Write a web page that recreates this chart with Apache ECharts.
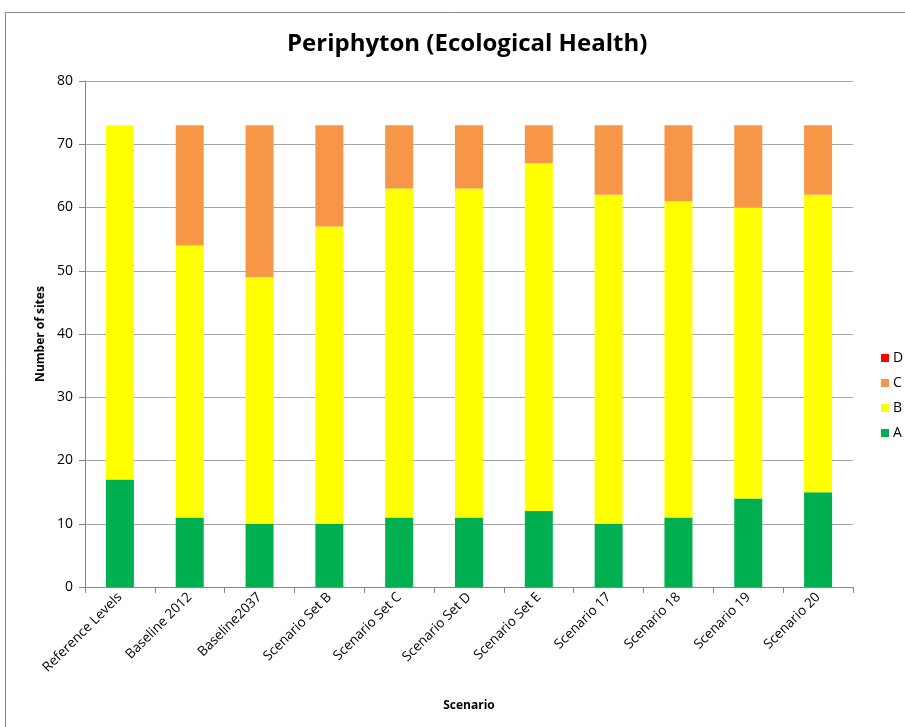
<!DOCTYPE html>
<html>
<head>
<meta charset="utf-8">
<script src="https://cdn.jsdelivr.net/npm/echarts@6/dist/echarts.min.js"></script>
<style>
html,body{margin:0;padding:0;background:#fff;}
#main{width:905px;height:727px;}
</style>
</head>
<body>
<div id="main"></div>
<script>
var categories = ['Reference Levels','Baseline 2012','Baseline2037','Scenario Set B','Scenario Set C','Scenario Set D','Scenario Set E','Scenario 17','Scenario 18','Scenario 19','Scenario 20'];
var valuesA = [17, 11, 10, 10, 11, 11, 12, 10, 11, 14, 15];
var valuesB = [56, 43, 39, 47, 52, 52, 55, 52, 50, 46, 47];
var valuesC = [0, 19, 24, 16, 10, 10, 6, 11, 12, 13, 11];
var valuesD = [0, 0, 0, 0, 0, 0, 0, 0, 0, 0, 0];
var yTicks = [0, 10, 20, 30, 40, 50, 60, 70, 80];

var font = '"Open Sans", "Liberation Sans", sans-serif';
var chart = echarts.init(document.getElementById('main'));

function bar(name, data, color){
    return {
        name: name,
        type: 'bar',
        stack: 'total',
        barWidth: 28,
        data: data,
        itemStyle: {color: color},
        emphasis: {disabled: true}
    };
}

var option = {
    animation: false,
    backgroundColor: '#fff',
    graphic: [{
        type: 'rect',
        shape: {x: 5.5, y: 12.5, width: 905, height: 730},
        style: {fill: 'none', stroke: '#868686', lineWidth: 1},
        silent: true
    }],
    title: {
        text: 'Periphyton (Ecological Health)',
        left: 282,
        top: 27,
        textStyle: {fontFamily: font, fontSize: 24, fontWeight: 'bold', color: '#000'}
    },
    legend: {
        orient: 'vertical',
        left: 876,
        top: 346,
        itemWidth: 8,
        itemHeight: 8,
        itemGap: 11,
        icon: 'rect',
        data: ['D', 'C', 'B', 'A'],
        textStyle: {fontFamily: font, fontSize: 14, color: '#000', padding: [0, 0, 0, -1]}
    },
    grid: {left: 85, right: 52, top: 81, bottom: 140},
    xAxis: {
        type: 'category',
        data: categories,
        name: 'Scenario',
        nameLocation: 'middle',
        nameGap: 113,
        nameTextStyle: {fontFamily: font, fontSize: 12, fontWeight: 'bold', color: '#000'},
        axisLine: {lineStyle: {color: '#868686'}},
        axisTick: {show: true, alignWithLabel: false, length: 6, lineStyle: {color: '#868686'}},
        axisLabel: {rotate: 45, interval: 0, fontFamily: font, fontSize: 13.5, color: '#000', margin: 8}
    },
    yAxis: {
        type: 'value',
        min: yTicks[0],
        max: yTicks[yTicks.length - 1],
        interval: 10,
        name: 'Number of sites',
        nameLocation: 'middle',
        nameGap: 38,
        nameTextStyle: {fontFamily: font, fontSize: 12, fontWeight: 'bold', color: '#000'},
        axisLine: {show: true, lineStyle: {color: '#868686'}},
        axisTick: {show: true, length: 6, lineStyle: {color: '#868686'}},
        axisLabel: {fontFamily: font, fontSize: 14, color: '#000', margin: 12},
        splitLine: {lineStyle: {color: '#a6a6a6'}}
    },
    series: [
        bar('A', valuesA, '#00B050'),
        bar('B', valuesB, '#FFFF00'),
        bar('C', valuesC, '#F79646'),
        bar('D', valuesD, '#FF0000')
    ]
};
chart.setOption(option);
</script>
</body>
</html>
